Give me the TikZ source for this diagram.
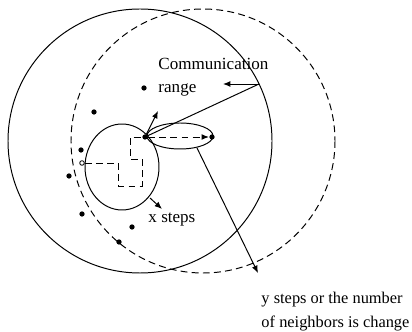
\documentclass[tikz,border=0pt]{standalone}
\usepackage{fontspec}
\setmainfont{Liberation Serif}
\usetikzlibrary{arrows.meta,positioning,calc}

\tikzset{
  dot/.style={circle, fill, inner sep=0pt, minimum size=3.2pt},
  hollow/.style={circle, draw, fill=white, inner sep=0pt, minimum size=2.8pt, line width=0.5pt},
  dashline/.style={dash pattern=on 4.2pt off 2.6pt},
  lbl/.style={anchor=base west, inner sep=0pt, align=left}
}

\begin{document}
\begin{tikzpicture}[x=0.61pt, y=-0.61pt, line width=0.6pt, font=\fontsize{10.4}{14.6}\selectfont, >={Latex[length=4.5pt,width=3.6pt]}]
  \useasboundingbox (0,0) rectangle (412,332);
  % old and new communication range
  \draw (140,141) circle [radius=132];
  \draw[dashline] (203,141) circle [radius=132];
  \draw (122,167) ellipse [x radius=37, y radius=43];
  \draw (180,136) ellipse [x radius=33, y radius=13];
  % neighbours
  \foreach \x/\y [count=\i] in {144/88, 94/112, 81/150, 69/176, 82/214, 132/227, 119/242}
    \node[dot] (d\i) at (\x,\y) {};
  \node[dot] (cur) at (145,137) {};
  \node[dot] (nxt) at (212,137) {};
  \node[hollow] (start) at (82,163) {};
  % moves
  \draw[dashline] (start) -- (118,163) -- (118,186) -- (142,186) -- (142,159) -- (130,159) -- (130,137) -- (cur);
  \draw[dashline,->] (cur) -- (nxt);
  \coordinate (up) at (158,111);
  \draw[->] (cur) -- (up);
  % labels
  \node[lbl] (comm) at (158,93) {Communication\\range};
  \coordinate (edge) at (259,84);
  \coordinate (rng) at (223,84);
  \draw (cur) -- (edge);
  \draw[->] (edge) -- (rng);
  \node[lbl] (xs) at (148,223) {x steps};
  \coordinate (xs0) at (150,198);
  \coordinate (xs1) at (162,209);
  \draw[->] (xs0) -- (xs1);
  \node[lbl, font=\fontsize{10}{14.6}\selectfont] (ys) at (261,327) {y steps or the number\\of neighbors is change};
  \coordinate (ys0) at (197,148);
  \coordinate (ys1) at (258,273);
  \draw[->] (ys0) -- (ys1);
\end{tikzpicture}
\end{document}
